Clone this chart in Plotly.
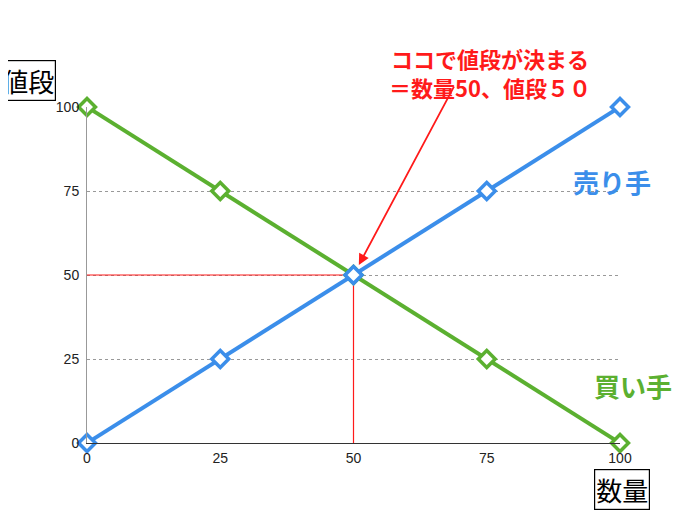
import plotly.graph_objects as go

qty = [0, 25, 50, 75, 100]
seller = [0, 25, 50, 75, 100]
buyer = [100, 75, 50, 25, 0]
ticks = [0, 25, 50, 75, 100]

blue = "#3b8eea"
green = "#5bb030"
red = "#ff1a1a"
font = "Noto Sans CJK JP"

fig = go.Figure()
fig.add_trace(go.Scatter(x=[0, 50, 50], y=[50, 50, 0], mode="lines",
                         line=dict(color=red, width=1.2), hoverinfo="skip"))
fig.add_trace(go.Scatter(x=qty, y=buyer, mode="lines+markers", cliponaxis=False,
                         line=dict(color=green, width=4),
                         marker=dict(symbol="diamond", size=13, color="white",
                                     line=dict(color=green, width=3.5))))
fig.add_trace(go.Scatter(x=qty, y=seller, mode="lines+markers", cliponaxis=False,
                         line=dict(color=blue, width=4),
                         marker=dict(symbol="diamond", size=13, color="white",
                                     line=dict(color=blue, width=3.5))))

fig.update_layout(
    width=684, height=502, showlegend=False,
    margin=dict(l=79, r=72, t=99, b=67),
    plot_bgcolor="white", paper_bgcolor="white",
    font=dict(family="Liberation Sans", size=14, color="#222"),
    xaxis=dict(range=[0, 100], tickvals=ticks, showgrid=False, zeroline=False,
               showline=True, linecolor="#333", linewidth=1, ticks="", ticklabelstandoff=2),
    yaxis=dict(range=[0, 100], tickvals=ticks, showgrid=True, gridcolor="#999",
               griddash="dot", gridwidth=1, zeroline=False,
               showline=True, linecolor="#999", linewidth=1, ticks="", ticklabelstandoff=4),
    annotations=[
        dict(xref="paper", yref="paper", x=-0.11, y=1.0, yanchor="bottom", xanchor="center",
             text="値段", showarrow=False, font=dict(family=font, size=26, color="black"),
             bordercolor="black", borderwidth=1.2, borderpad=1, yshift=6),
        dict(xref="paper", yref="paper", x=1.0, y=0, yanchor="top", xanchor="center",
             text="数量", showarrow=False, font=dict(family=font, size=26, color="black"),
             bordercolor="black", borderwidth=1.2, borderpad=1, yshift=-26, xshift=2),
        dict(xref="paper", yref="paper", x=0.757, y=1.0, yanchor="bottom", xanchor="center",
             text="<b>ココで値段が決まる<br>＝数量50、値段５０</b>", showarrow=False,
             font=dict(family=font, size=22, color=red), yshift=2),
        dict(x=51, y=53, ax=69, ay=106.5, axref="x", ayref="y",
             showarrow=True, arrowhead=2, arrowsize=1.2, arrowwidth=1.8, arrowcolor=red, text=""),
        dict(xref="paper", yref="paper", x=0.985, y=0.84, xanchor="center",
             text="<b>売り手</b>", showarrow=False, font=dict(family=font, size=26, color=blue)),
        dict(xref="paper", yref="paper", x=1.025, y=0.11, xanchor="center",
             text="<b>買い手</b>", showarrow=False, font=dict(family=font, size=26, color=green)),
    ],
)
fig.write_html("out.html")
